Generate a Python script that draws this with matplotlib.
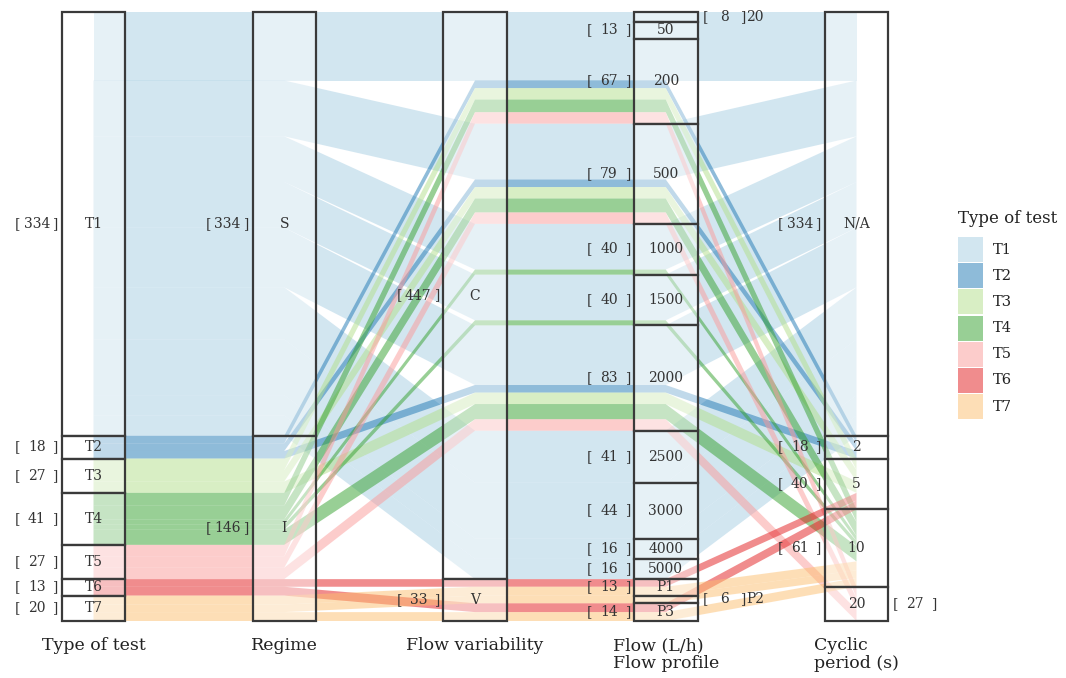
import matplotlib.pyplot as plt
from matplotlib.patches import Polygon, Rectangle

plt.rcParams['font.family'] = ['DejaVu Serif']

# dimensions (columns) and their categories, top to bottom
dim_names = ['Type of test', 'Regime', 'Flow variability', 'Flow (L/h)\nFlow profile', 'Cyclic\nperiod (s)']
types = ['T1', 'T2', 'T3', 'T4', 'T5', 'T6', 'T7']
regimes = ['S', 'I']
variability = ['C', 'V']
flows = ['20', '50', '200', '500', '1000', '1500', '2000', '2500', '3000', '4000', '5000', 'P1', 'P2', 'P3']
cycles = ['N/A', '2', '5', '10', '20']

# each type goes to one regime / variability / cycle
type_regime = ['S', 'I', 'I', 'I', 'I', 'I', 'I']
type_var = ['C', 'C', 'C', 'C', 'C', 'V', 'V']
type_cycle = ['N/A', '2', '5', '10', '20', '5', '10']

# number of tests per type and flow (order of flows list)
t1_flow = [8, 13, 33, 44, 36, 36, 47, 41, 44, 16, 16, 0, 0, 0]
t2_flow = [0, 0, 6, 6, 0, 0, 6, 0, 0, 0, 0, 0, 0, 0]
t3_flow = [0, 0, 9, 9, 0, 0, 9, 0, 0, 0, 0, 0, 0, 0]
t4_flow = [0, 0, 10, 11, 4, 4, 12, 0, 0, 0, 0, 0, 0, 0]
t5_flow = [0, 0, 9, 9, 0, 0, 9, 0, 0, 0, 0, 0, 0, 0]
t6_flow = [0, 0, 0, 0, 0, 0, 0, 0, 0, 0, 0, 6, 0, 7]
t7_flow = [0, 0, 0, 0, 0, 0, 0, 0, 0, 0, 0, 7, 6, 7]
type_flow = [t1_flow, t2_flow, t3_flow, t4_flow, t5_flow, t6_flow, t7_flow]

colors = ['#a6cee3', '#1f78b4', '#b2df8a', '#33a02c', '#fb9a99', '#e31a1c', '#fdbf6f']

# build paths: (type, regime, var, flow, cycle, n)
paths = []
for ti in range(len(types)):
    for fi in range(len(flows)):
        n = type_flow[ti][fi]
        if n > 0:
            paths.append((ti, regimes.index(type_regime[ti]), variability.index(type_var[ti]),
                          fi, cycles.index(type_cycle[ti]), n))

# order of ribbons inside each column
sort_keys = [
    lambda p: (p[0], p[3]),
    lambda p: (p[1], p[0], p[3]),
    lambda p: (p[2], p[3], p[0]),
    lambda p: (p[3], p[0]),
    lambda p: (p[4], p[0], p[3]),
]
ncol = len(dim_names)
tops = [[0] * ncol for _ in paths]
for j in range(ncol):
    order = sorted(range(len(paths)), key=lambda k: sort_keys[j](paths[k]))
    y = 0
    for k in order:
        tops[k][j] = y
        y += paths[k][5]

total = sum(p[5] for p in paths)

W, H = 1066, 678
col_px = 190.75
x0_px = 93.5
y0_px = 12
unit_px = 609 / total

fig = plt.figure(figsize=(W / 100, H / 100), dpi=100)
ax = fig.add_axes([0, 0, 1, 1])
ax.set_xlim(-x0_px / col_px, (W - x0_px) / col_px)
ax.set_ylim((H - y0_px) / unit_px, -y0_px / unit_px)
ax.axis('off')

def px(d):
    return d / col_px

def py(d):
    return d / unit_px

# ribbons
xs = list(range(ncol))
for k, p in enumerate(paths):
    t = tops[k]
    b = [v + p[5] for v in t]
    verts = list(zip(xs, t)) + list(zip(xs[::-1], b[::-1]))
    ax.add_patch(Polygon(verts, closed=True, facecolor=colors[p[0]], alpha=0.5,
                         edgecolor='none', zorder=1))

# category boxes and labels
hw = px(31.75)
cat_lists = [types, regimes, variability, flows, cycles]
for j in range(ncol):
    counts = [0] * len(cat_lists[j])
    for p in paths:
        counts[p[j]] += p[5]
    y = 0
    for ci, name in enumerate(cat_lists[j]):
        n = counts[ci]
        ax.add_patch(Rectangle((j - hw, y), 2 * hw, n, facecolor=(1, 1, 1, 0.45),
                               edgecolor='#3a3a3a', lw=1.6, zorder=3))
        yc = y + n / 2
        # small boxes: name and count go to the right
        name_right = (j == 3 and name in ('20', 'P2'))
        count_right = name_right or (j == 4 and name == '20')
        if count_right:
            xl = j + hw + px(5)
        else:
            xl = j - hw - px(47)
        ax.text(xl, yc, '[', ha='left', va='center', fontsize=10, color='#333333', zorder=4)
        ax.text(xl + px(22), yc, str(n), ha='center', va='center', fontsize=10, color='#333333', zorder=4)
        ax.text(xl + px(44), yc, ']', ha='right', va='center', fontsize=10, color='#333333', zorder=4)
        if name_right:
            ax.text(xl + px(44), yc, name, ha='left', va='center', fontsize=10, color='#333333', zorder=4)
        else:
            ax.text(j, yc, name, ha='center', va='center', fontsize=10, color='#333333', zorder=4)
        y += n

# column titles
for j, name in enumerate(dim_names):
    ax.text(j, total + py(16), name, ha='center', va='top', multialignment='left',
            fontsize=12.5, color='#222222', linespacing=1.05)

# legend
ax.text(958 / W, 1 - 219 / H, 'Type of test', transform=ax.transAxes, ha='left',
        va='center', fontsize=12, color='#222222')
for i, t in enumerate(types):
    ytop = 237 + i * 26.2
    ax.add_patch(Rectangle((958 / W, 1 - (ytop + 25) / H), 25 / W, 25 / H,
                           transform=ax.transAxes, facecolor=colors[i], alpha=0.5,
                           edgecolor='none'))
    ax.text(993 / W, 1 - (ytop + 12.5) / H, t, transform=ax.transAxes, ha='left',
            va='center', fontsize=10.5, color='#222222')

fig.savefig('out.png', dpi=100)
